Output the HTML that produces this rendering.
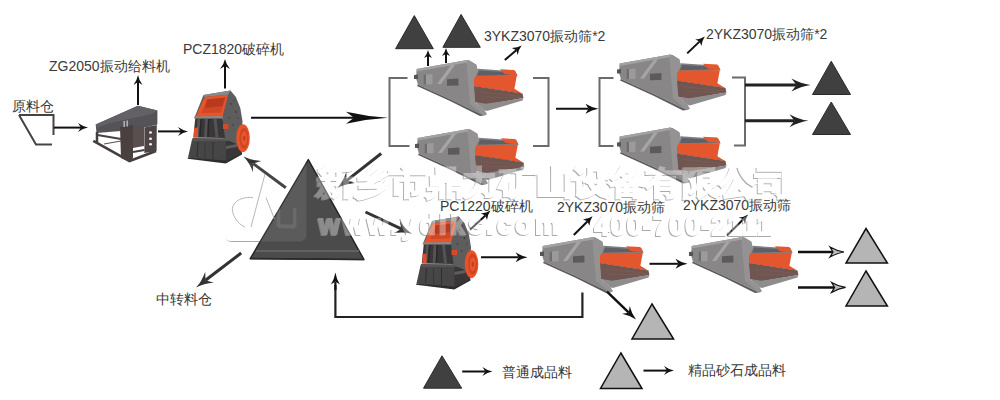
<!DOCTYPE html><html><head><meta charset="utf-8"><style>
html,body{margin:0;padding:0;background:#fff;width:1000px;height:400px;overflow:hidden}
svg{display:block}
text{font-family:"Liberation Sans",sans-serif}
</style></head><body>
<svg width="1000" height="400" viewBox="0 0 1000 400">
<defs>
<linearGradient id="gScr" x1="0" y1="0" x2="1" y2="1">
<stop offset="0" stop-color="#8a8a8a"/><stop offset="0.5" stop-color="#6e6c6c"/><stop offset="1" stop-color="#555"/>
</linearGradient>
<linearGradient id="gOr" x1="0" y1="0" x2="0" y2="1">
<stop offset="0" stop-color="#e8542c"/><stop offset="1" stop-color="#c9461f"/>
</linearGradient>
</defs>
<g id="feed">
<polygon points="95.7,124.4 137.9,105.7 157.4,110.6 157.4,124.4 148.5,126.8 121,131 96.5,133" fill="#555357"/>
<polygon points="95.7,124.4 137.9,105.7 157.4,110.6 152,114 110,123 97,127.5" fill="#636166"/>
<line x1="93.3" y1="140.8" x2="130" y2="161.3" stroke="#463e3e" stroke-width="2.6"/>
<line x1="129" y1="161.3" x2="156" y2="151" stroke="#463e3e" stroke-width="2.6"/>
<line x1="97.5" y1="135" x2="121" y2="139" stroke="#4a4242" stroke-width="2.2"/>
<line x1="97" y1="132" x2="97" y2="142" stroke="#463e3e" stroke-width="2.5"/>
<line x1="104" y1="144" x2="121" y2="141" stroke="#5a5252" stroke-width="1.2"/>
<polygon points="120,127 133,125 133,158 130,162 121,158" fill="#4a4040"/>
<polygon points="133,127 144,126 144,146 133,148" fill="#5a4f4f"/>
<polygon points="144.4,127.6 156.8,125 156.6,151 144.4,153" fill="#4d4545"/>
<line x1="133" y1="152" x2="144.5" y2="150" stroke="#4a4242" stroke-width="2"/>
<ellipse cx="150.5" cy="132.5" rx="1.5" ry="1.3" fill="#f4f4f4"/>
<ellipse cx="150.5" cy="138.8" rx="1.5" ry="1.3" fill="#f4f4f4"/>
<ellipse cx="150.5" cy="144.2" rx="1.5" ry="1.3" fill="#f4f4f4"/>
<rect x="123.5" y="121" width="1.4" height="6" fill="#bbb"/>
<rect x="126.5" y="120.5" width="1.4" height="6" fill="#bbb"/>
</g>
<g id="cru">
<polygon points="188,157.4 192,139.5 225.8,140.2 239,138.2 241.7,153.5 225.8,162.7" fill="#474646"/>
<polygon points="188,157.4 225.8,160.5 241.7,152 242,154.5 225.8,163.5 187.5,158.8" fill="#2e2c2c"/>
<polygon points="225.8,140.2 239,138.2 241.7,153.5 225.8,161.4" fill="#383636"/>
<polygon points="192.5,138 231,138.2 231,141 192,141" fill="#555353"/>
<line x1="198" y1="142" x2="197" y2="157" stroke="#2e2e2e" stroke-width="1"/><line x1="205" y1="142" x2="205" y2="158" stroke="#353535" stroke-width="0.8"/>
<line x1="213" y1="142" x2="213" y2="159" stroke="#2e2e2e" stroke-width="1"/>
<polygon points="226,146 237,144 237,147 226,149" fill="#5e5c5c"/>
<polygon points="194.5,117.5 203.5,95 230.4,90.4 235.9,97 240.3,108 242.5,121.2 241.7,135 239,145 222.5,138 222.5,117.7" fill="#5e5d5d"/>
<polygon points="195.3,117.7 222.5,117.7 225,138 193.3,137.5" fill="#393838"/>
<polygon points="197.5,119 200.5,119 199,137 196.2,137" fill="#555353"/>
<polygon points="205,119 208,119 207.2,137 204.2,137" fill="#555353"/>
<polygon points="213.5,119 216.5,119 218.5,137 215.5,137" fill="#555353"/>
<polygon points="200.5,119 202,119 200.5,137 199,137" fill="#2a2929"/>
<polygon points="208,119 209.5,119 208.7,137 207.2,137" fill="#2a2929"/>
<polygon points="203.5,95 230.4,90.4 228,94.8 204.5,97" fill="#8a8888"/>
<polygon points="204.5,97 228,94.8 222.7,116.5 195.5,117" fill="#e6532c"/>
<polygon points="207.5,99.5 225.5,97.5 221,112.5 201.5,113" fill="#d04724"/>
<polygon points="207,99.5 225.5,97.5 222,106 205,108" fill="#b83a1e"/>
<polygon points="194.5,116.5 222.7,116 222.5,118.5 194,118.5" fill="#8a8888"/>
<polygon points="194,128 198,127.5 198,137 194,137" fill="#e04e2a"/>
<polygon points="223,124 228.5,124 228.5,129 223,129" fill="#d64a28"/>
<circle cx="231" cy="104" r="0.7" fill="#2a2a2a"/><circle cx="236" cy="112" r="0.8" fill="#2a2a2a"/><circle cx="229" cy="118" r="0.7" fill="#333"/><circle cx="233" cy="125" r="0.7" fill="#333"/><circle cx="234" cy="100" r="0.6" fill="#333"/><circle cx="238" cy="118" r="0.6" fill="#333"/>
<ellipse cx="243" cy="138.2" rx="6.8" ry="14" fill="#e8532c"/>
<ellipse cx="244" cy="138.2" rx="4.5" ry="10.5" fill="#cf4520"/>
<ellipse cx="244.2" cy="138.2" rx="3" ry="7" fill="#e8572f"/>
<ellipse cx="244.3" cy="138.2" rx="1.2" ry="2.6" fill="#c23e1c"/>
</g>
<g id="scr">
<polygon points="477.9,68.8 515.3,71.3 517.7,76.1 473.8,77.5" fill="#7f8086"/>
<polygon points="479,70.5 514,72.6 515,74.8 477,75.8" fill="#5f6066"/>
<polygon points="500.7,70.4 515.3,71.3 517,75 505,74" fill="#e5582f"/>
<polygon points="473.8,76 516.8,75.8 514.4,88.8 522.5,93.7 473.8,86.3" fill="#e4562d"/>
<polygon points="499.8,69.3 514.4,70 516.8,75 505,74" fill="#e5582f"/>
<polygon points="473.8,86 522.5,93.4 523.4,98.1 486,104.5 474.6,102.2" fill="#6f5650"/>
<line x1="480" y1="92" x2="521" y2="96.5" stroke="#806058" stroke-width="0.6"/>
<line x1="482" y1="97" x2="520" y2="98" stroke="#806058" stroke-width="0.6"/>
<polygon points="474.6,102 486,103.8 523.4,98.1 522.5,100.5 486.8,111.1 484.4,110.3" fill="#8e8c8c"/>
<polygon points="416.7,69.1 467.4,60.1 469.8,60.7 476.3,64.8 477.9,71.3 473.8,79.4 474.6,102.2 484.4,110.3 486.8,114.3 484,115.5 451,99.5 417.9,84.5 416,78" fill="#888686"/>
<polygon points="466.2,60.2 469.8,60.7 476.3,64.8 477.9,71.3 473.8,79.4 474.6,102.2 484.4,110.3 486.8,114.3 484,115.5 470,104 467,70" fill="#949292"/>
<polygon points="416.7,69.1 467.4,60.1 467.6,62.5 416.5,71.5" fill="#a2a2a4"/>
<polygon points="414,75 418,74.5 418,79 414,79" fill="#555558"/>
<polygon points="423.5,74.7 432.5,74 432.5,84.2 423.5,84.5" fill="#9b9a9c"/>
<polygon points="423.5,74.7 426,74.6 426,84.5 423.5,84.5" fill="#6e6d70"/>
<polygon points="437,84 451,65 455,65 441,84" fill="#a5a5a7"/>
<polygon points="447,79.2 458.4,78.5 458.4,85.4 447,85.8" fill="#5c5a5c"/>
<polygon points="417.9,84.5 451,99.5 484,115.5 480,116 450,101 417,86" fill="#5e5c5c"/>
</g>
<use href="#scr" x="1" y="69"/>
<use href="#scr" x="203" y="-5.5"/>
<use href="#scr" x="203" y="67.5"/>
<use href="#scr" x="126" y="177"/>
<use href="#scr" x="275" y="177"/>
<use href="#cru" x="228.5" y="126"/>


<text x="12" y="111" font-size="14" fill="#3a3a3a" font-weight="300" text-anchor="start">原料仓</text>
<text x="49" y="70.5" font-size="14" fill="#3a3a3a" font-weight="300" text-anchor="start">ZG2050振动给料机</text>
<text x="183" y="54" font-size="14" fill="#3a3a3a" font-weight="300" text-anchor="start">PCZ1820破碎机</text>
<text x="484" y="41.2" font-size="14" fill="#3a3a3a" font-weight="300" text-anchor="start">3YKZ3070振动筛*2</text>
<text x="706" y="38.5" font-size="14" fill="#3a3a3a" font-weight="300" text-anchor="start">2YKZ3070振动筛*2</text>
<text x="440" y="210.5" font-size="14" fill="#3a3a3a" font-weight="300" text-anchor="start">PC1220破碎机</text>
<text x="557" y="212" font-size="14" fill="#3a3a3a" font-weight="300" text-anchor="start">2YKZ3070振动筛</text>
<text x="683" y="210" font-size="14" fill="#3a3a3a" font-weight="300" text-anchor="start">2YKZ3070振动筛</text>
<text x="156" y="304" font-size="14" fill="#3a3a3a" font-weight="300" text-anchor="start">中转料仓</text>
<text x="502" y="377" font-size="14" fill="#3a3a3a" font-weight="300" text-anchor="start">普通成品料</text>
<text x="688" y="375" font-size="14" fill="#3a3a3a" font-weight="300" text-anchor="start">精品砂石成品料</text>
<polyline points="19,115 53.5,115 53.5,135" fill="none" stroke="#444" stroke-width="2"/>
<polyline points="19,115 36,144.5 52,144.5" fill="none" stroke="#444" stroke-width="2"/>
<line x1="54.0" y1="127.6" x2="81.0" y2="127.6" stroke="#111" stroke-width="2"/>
<path d="M88.0,127.6 Q83.0,128.5 78.0,132.1 L81.0,127.6 L78.0,123.1 Q83.0,126.7 88.0,127.6 Z" fill="#111"/>
<line x1="138.0" y1="105.0" x2="138.0" y2="82.0" stroke="#111" stroke-width="2"/>
<path d="M138.0,75.0 Q138.9,80.0 142.5,85.0 L138.0,82.0 L133.5,85.0 Q137.1,80.0 138.0,75.0 Z" fill="#111"/>
<line x1="158.0" y1="131.4" x2="181.0" y2="131.4" stroke="#111" stroke-width="2"/>
<path d="M188.0,131.4 Q183.0,132.3 178.0,135.9 L181.0,131.4 L178.0,126.9 Q183.0,130.5 188.0,131.4 Z" fill="#111"/>
<line x1="225.0" y1="88.6" x2="225.0" y2="66.0" stroke="#111" stroke-width="2"/>
<path d="M225.0,59.0 Q226.0,64.0 230.0,69.0 L225.0,66.0 L220.0,69.0 Q224.0,64.0 225.0,59.0 Z" fill="#111"/>
<line x1="251.0" y1="117.8" x2="354.0" y2="117.8" stroke="#111" stroke-width="2"/>
<path d="M388.0,117.8 Q367.0,119.0 346.0,123.8 L354.0,117.8 L346.0,111.8 Q367.0,116.6 388.0,117.8 Z" fill="#111"/>
<polyline points="407.5,78 389.5,78 389.5,146 409.5,146" fill="none" stroke="#6b6b6b" stroke-width="2"/>
<polyline points="533,78 548.5,78 548.5,146 533,146" fill="none" stroke="#6b6b6b" stroke-width="2"/>
<polyline points="613.5,78 599.5,78 599.5,146 613.5,146" fill="none" stroke="#6b6b6b" stroke-width="2"/>
<polyline points="732,77.5 745,77.5 745,145.5 734,145.5" fill="none" stroke="#6b6b6b" stroke-width="2"/>
<line x1="556.0" y1="108.8" x2="588.5" y2="108.8" stroke="#111" stroke-width="2"/>
<path d="M598.5,108.8 Q592.0,109.8 585.5,113.8 L588.5,108.8 L585.5,103.8 Q592.0,107.8 598.5,108.8 Z" fill="#111"/>
<line x1="745.0" y1="85.0" x2="796.5" y2="85.0" stroke="#222" stroke-width="3"/>
<path d="M810.5,85.0 Q801.0,86.3 791.5,91.5 L796.5,85.0 L791.5,78.5 Q801.0,83.7 810.5,85.0 Z" fill="#222"/>
<line x1="745.0" y1="120.8" x2="794.5" y2="120.8" stroke="#222" stroke-width="3"/>
<path d="M808.5,120.8 Q799.0,122.0 789.5,127.2 L794.5,120.8 L789.5,114.2 Q799.0,119.5 808.5,120.8 Z" fill="#222"/>
<polygon points="414.3,15.6 433.3,48.7 395.6,48.7" fill="#404040" stroke="#2a2a2a" stroke-width="1"/>
<polygon points="461.1,14.4 480.3,47.3 442.9,47.3" fill="#404040" stroke="#2a2a2a" stroke-width="1"/>
<polygon points="831.25,61.25 850.5,94.5 812.5,94.5" fill="#404040" stroke="#2a2a2a" stroke-width="1"/>
<polygon points="831.25,102 850.5,134.5 812.5,134.5" fill="#404040" stroke="#2a2a2a" stroke-width="1"/>
<line x1="428.0" y1="66.0" x2="428.0" y2="56.0" stroke="#111" stroke-width="2"/>
<path d="M428.0,50.0 Q428.8,54.0 432.0,58.0 L428.0,56.0 L424.0,58.0 Q427.2,54.0 428.0,50.0 Z" fill="#111"/>
<line x1="446.0" y1="63.0" x2="446.0" y2="54.0" stroke="#111" stroke-width="2"/>
<path d="M446.0,48.0 Q446.8,52.0 450.0,56.0 L446.0,54.0 L442.0,56.0 Q445.2,52.0 446.0,48.0 Z" fill="#111"/>
<line x1="504.8" y1="60.0" x2="516.3" y2="50.2" stroke="#111" stroke-width="2"/>
<path d="M521.6,45.6 Q518.8,49.2 517.7,54.9 L516.3,50.2 L511.8,48.0 Q517.6,47.8 521.6,45.6 Z" fill="#111"/>
<line x1="687.2" y1="53.4" x2="699.7" y2="41.4" stroke="#111" stroke-width="2"/>
<path d="M704.8,36.6 Q702.2,40.4 701.4,46.1 L699.7,41.4 L695.2,39.6 Q700.9,39.1 704.8,36.6 Z" fill="#111"/>
<polygon points="308.3,159.6 364,259.6 250.2,258.7" fill="#4b4b4b" stroke="#222" stroke-width="1.4" stroke-linejoin="round"/>
<line x1="256" y1="251" x2="359" y2="251" stroke="#6a6a6a" stroke-width="1.5"/>
<line x1="251" y1="258.5" x2="364" y2="259.4" stroke="#2a2a2a" stroke-width="1.5"/>
<line x1="285.8" y1="187.7" x2="253.2" y2="163.6" stroke="#333" stroke-width="3"/>
<path d="M243.5,156.5 Q251.2,160.4 261.3,161.0 L253.2,163.6 L253.0,172.2 Q249.5,162.7 243.5,156.5 Z" fill="#333"/>
<line x1="381.2" y1="153.5" x2="346.6" y2="180.6" stroke="#333" stroke-width="3"/>
<path d="M337.2,188.0 Q343.0,181.7 346.3,172.0 L346.6,180.6 L354.9,183.0 Q344.8,183.9 337.2,188.0 Z" fill="#333"/>
<line x1="365.5" y1="212.0" x2="401.3" y2="228.9" stroke="#333" stroke-width="3"/>
<path d="M412.2,234.0 Q403.9,231.6 393.8,233.1 L401.3,228.9 L399.8,220.4 Q405.1,229.1 412.2,234.0 Z" fill="#333"/>
<line x1="241.2" y1="253.0" x2="205.5" y2="280.3" stroke="#333" stroke-width="3"/>
<path d="M196.0,287.6 Q201.9,281.3 205.2,271.7 L205.5,280.3 L213.8,282.8 Q203.6,283.5 196.0,287.6 Z" fill="#333"/>
<line x1="470.0" y1="229.8" x2="485.4" y2="215.4" stroke="#111" stroke-width="2"/>
<path d="M490.5,210.6 Q487.8,214.3 487.0,220.0 L485.4,215.4 L480.9,213.5 Q486.6,213.0 490.5,210.6 Z" fill="#111"/>
<line x1="481.0" y1="257.3" x2="518.6" y2="257.3" stroke="#111" stroke-width="2"/>
<path d="M527.6,257.3 Q521.6,258.3 515.6,262.3 L518.6,257.3 L515.6,252.3 Q521.6,256.3 527.6,257.3 Z" fill="#111"/>
<line x1="573.8" y1="235.0" x2="587.6" y2="221.2" stroke="#111" stroke-width="2"/>
<path d="M592.5,216.2 Q590.0,220.1 589.3,225.8 L587.6,221.2 L583.0,219.4 Q588.7,218.8 592.5,216.2 Z" fill="#111"/>
<line x1="649.5" y1="263.8" x2="678.5" y2="263.8" stroke="#111" stroke-width="2"/>
<path d="M687.5,263.8 Q681.5,264.8 675.5,268.8 L678.5,263.8 L675.5,258.8 Q681.5,262.8 687.5,263.8 Z" fill="#111"/>
<line x1="727.0" y1="235.5" x2="743.3" y2="219.3" stroke="#111" stroke-width="2"/>
<path d="M748.2,214.4 Q745.7,218.2 745.0,223.9 L743.3,219.3 L738.7,217.5 Q744.4,216.9 748.2,214.4 Z" fill="#111"/>
<line x1="798.0" y1="252.0" x2="833.0" y2="252.0" stroke="#111" stroke-width="2.5"/>
<path d="M844.0,252.0 Q837.0,253.0 830.0,257.0 L833.0,252.0 L830.0,247.0 Q837.0,251.0 844.0,252.0 Z" fill="#bbb" stroke="#111" stroke-width="1.2"/>
<line x1="798.0" y1="287.4" x2="834.6" y2="287.4" stroke="#111" stroke-width="2.5"/>
<path d="M845.6,287.4 Q838.6,288.4 831.6,292.4 L834.6,287.4 L831.6,282.4 Q838.6,286.4 845.6,287.4 Z" fill="#bbb" stroke="#111" stroke-width="1.2"/>
<line x1="607.0" y1="291.6" x2="628.8" y2="312.7" stroke="#111" stroke-width="2.5"/>
<path d="M636.0,319.6 Q630.2,315.5 622.1,313.8 L628.8,312.7 L629.7,305.9 Q631.7,313.9 636.0,319.6 Z" fill="#111"/>
<polyline points="582.4,292.4 582.4,317 335.4,317 335.4,285" fill="none" stroke="#222" stroke-width="2.2"/>
<line x1="335.4" y1="290.0" x2="335.4" y2="281.6" stroke="#111" stroke-width="2.2"/>
<path d="M335.4,272.6 Q336.3,278.6 339.9,284.6 L335.4,281.6 L330.9,284.6 Q334.5,278.6 335.4,272.6 Z" fill="#111"/>
<polygon points="866,228.5 887.4,263 846,263" fill="#b5b5b5" stroke="#111" stroke-width="1.5"/>
<polygon points="866,271 887.4,306 846,306" fill="#b5b5b5" stroke="#111" stroke-width="1.5"/>
<polygon points="652,304 673.6,339 632,339" fill="#b5b5b5" stroke="#111" stroke-width="1.5"/>
<polygon points="442,355.8 461.7,388.2 423.5,388.2" fill="#404040" stroke="#2a2a2a" stroke-width="1"/>
<line x1="462.2" y1="371.5" x2="485.4" y2="371.5" stroke="#111" stroke-width="2"/>
<path d="M492.4,371.5 Q487.4,372.4 482.4,376.0 L485.4,371.5 L482.4,367.0 Q487.4,370.6 492.4,371.5 Z" fill="#111"/>
<polygon points="620.9,353 642,388.5 600.5,388.5" fill="#b5b5b5" stroke="#111" stroke-width="1.5"/>
<line x1="643.5" y1="370.6" x2="667.0" y2="370.6" stroke="#111" stroke-width="2"/>
<path d="M674.0,370.6 Q669.0,371.5 664.0,375.1 L667.0,370.6 L664.0,366.1 Q669.0,369.7 674.0,370.6 Z" fill="#111"/>
<defs><filter id="emb" x="-5%" y="-20%" width="110%" height="140%">
<feOffset in="SourceAlpha" dx="-1.3" dy="1.3" result="o"/>
<feComposite in="o" in2="SourceAlpha" operator="out" result="e"/>
<feFlood flood-color="#8c8c8c" flood-opacity="0.75"/><feComposite in2="e" operator="in" result="sh"/>
<feFlood flood-color="#ffffff" flood-opacity="0.36"/><feComposite in2="SourceAlpha" operator="in" result="fl"/>
<feMerge><feMergeNode in="sh"/><feMergeNode in="fl"/></feMerge></filter></defs>
<g font-family="Liberation Sans, sans-serif" font-weight="900" filter="url(#emb)" fill="#000" stroke="#000" stroke-width="1.3" stroke-linejoin="miter">
<text transform="translate(316,194) scale(1.245,1.1)" x="0" y="0" font-size="30" letter-spacing="-0.4" stroke-width="1.5">新乡市鼎力矿山设备有限公司</text>
<text x="319" y="234" font-size="27" letter-spacing="3.2" stroke-width="1.8">www.ydlks.com</text>
<text x="594.5" y="235" font-size="27" letter-spacing="1.1" stroke-width="1.8">400-700-2111</text>
</g>
<g fill="none" stroke="#b0b0b0" stroke-width="1">
<path d="M253,197.6 C238,196 230,205 233,213 C235,220 240,225 245,227"/>
<path d="M265,174 L251,227"/>
<path d="M266,197.6 L274.4,218.8"/>
</g>
<filter id="emb2" x="-10%" y="-10%" width="120%" height="120%">
<feOffset in="SourceAlpha" dx="1.2" dy="1.2" result="o"/>
<feComposite in="o" in2="SourceAlpha" operator="out" result="e"/>
<feFlood flood-color="#555" flood-opacity="0.5"/><feComposite in2="e" operator="in" result="sh"/>
<feFlood flood-color="#ffffff" flood-opacity="0.09"/><feComposite in2="SourceAlpha" operator="in" result="fl"/>
<feMerge><feMergeNode in="sh"/><feMergeNode in="fl"/></feMerge></filter>
<path filter="url(#emb2)" fill="#000" d="M276.6,208 L279.5,208 L279.5,222.5 Q279.5,224.5 282,224.5 L291.5,224.5 Q293,224.5 293,222.5 L293,208 L296,208 L296,224 Q296,228 292,228 L281,228 Q276.6,228 276.6,224 Z"/>
<path filter="url(#emb2)" fill="#000" d="M224,163 L306,163 L306,234 Q306,241 299,241 L231,241 Q224,241 224,234 Z"/>
</svg></body></html>
